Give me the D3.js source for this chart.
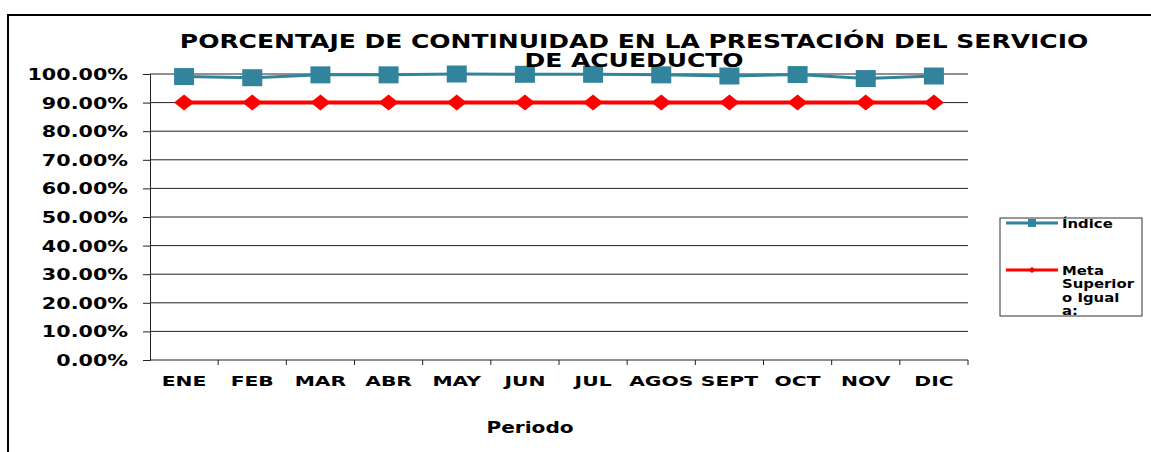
<!DOCTYPE html>
<html>
<head>
<meta charset="utf-8">
<script src="https://cdn.jsdelivr.net/npm/d3@7"></script>
<style>
  body { margin: 0; background: #fff; }
  text { font-family: "DejaVu Sans", Verdana, sans-serif; font-weight: bold; fill: #000; }
</style>
</head>
<body>
<svg width="1151" height="452"></svg>
<script>
const months = ["ENE", "FEB", "MAR", "ABR", "MAY", "JUN", "JUL", "AGOS", "SEPT", "OCT", "NOV", "DIC"]
const indice = [0.991, 0.987, 0.997, 0.997, 1.0, 0.999, 0.999, 0.997, 0.993, 0.998, 0.984, 0.993]
const meta = [0.9, 0.9, 0.9, 0.9, 0.9, 0.9, 0.9, 0.9, 0.9, 0.9, 0.9, 0.9]
const yTicks = [0, 0.1, 0.2, 0.3, 0.4, 0.5, 0.6, 0.7, 0.8, 0.9, 1.0]

const svg = d3.select("svg")

// the original chart is stretched sideways, so text gets a horizontal scale
const wideText = (g, x, y, sx) => g.append("g")
  .attr("transform", `translate(${x},${y}) scale(${sx},1)`)
  .append("text")

// outer frame (open on right and bottom)
svg.append("path")
  .attr("d", "M8,460 L8,15 L1160,15")
  .attr("fill", "none")
  .attr("stroke", "#000")
  .attr("stroke-width", 2)

const plotLeft = 150, plotRight = 968, plotTop = 74, plotBottom = 360

const x = d3.scaleBand().domain(months).range([plotLeft, plotRight])
const y = d3.scaleLinear().domain([0, 1]).range([plotBottom, plotTop])

// grid
svg.append("g")
  .selectAll("line")
  .data(yTicks.slice(1))
  .enter()
  .append("line")
  .attr("x1", plotLeft)
  .attr("x2", plotRight)
  .attr("y1", d => y(d))
  .attr("y2", d => y(d))
  .attr("stroke", "#222")
  .attr("stroke-width", 1)

const ySx = 1.38
const yAxis = svg.append("g")
  .attr("transform", `translate(${plotLeft},0)`)
  .call(d3.axisLeft(y).tickValues(yTicks).tickFormat(d3.format(".2%")).tickSize(7).tickPadding(14))
yAxis.select(".domain").attr("stroke", "#222")
yAxis.selectAll(".tick line").attr("stroke", "#222")
yAxis.selectAll("text")
  .style("font-size", "15px")
  .attr("dy", "0.36em")
  .attr("x", -22 / ySx)
  .attr("transform", `scale(${ySx},1)`)

const xAxis = svg.append("g")
  .attr("transform", `translate(0,${plotBottom})`)
  .call(d3.axisBottom(x).tickSize(0).tickPadding(16))
xAxis.select(".domain").attr("stroke", "#222").attr("d", `M${plotLeft},0H${plotRight}`)
xAxis.selectAll("text")
  .style("font-size", "14px")
  .attr("transform", "scale(1.45,1)")

// category boundary ticks
svg.append("g")
  .selectAll("line")
  .data(months)
  .enter()
  .append("line")
  .attr("x1", d => x(d) + x.bandwidth())
  .attr("x2", d => x(d) + x.bandwidth())
  .attr("y1", plotBottom)
  .attr("y2", plotBottom + 5)
  .attr("stroke", "#222")

const cx = d => x(d) + x.bandwidth() / 2
const line = d3.line().x((d, i) => cx(months[i])).y(d => y(d))

// meta line
svg.append("path")
  .datum(meta)
  .attr("d", line)
  .attr("fill", "none")
  .attr("stroke", "#ff0000")
  .attr("stroke-width", 4)

svg.append("g")
  .selectAll("path")
  .data(meta)
  .enter()
  .append("path")
  .attr("transform", (d, i) => `translate(${cx(months[i])},${y(d)})`)
  .attr("d", "M-10,0 L0,-8 L10,0 L0,8 Z")
  .attr("fill", "#ff0000")

// indice line
svg.append("path")
  .datum(indice)
  .attr("d", line)
  .attr("fill", "none")
  .attr("stroke", "#31849b")
  .attr("stroke-width", 3)

svg.append("g")
  .selectAll("rect")
  .data(indice)
  .enter()
  .append("rect")
  .attr("x", (d, i) => cx(months[i]) - 10)
  .attr("y", d => y(d) - 8.5)
  .attr("width", 20)
  .attr("height", 17)
  .attr("fill", "#31849b")

// title
wideText(svg, 634, 48, 1.25)
  .attr("text-anchor", "middle")
  .style("font-size", "20px")
  .text("PORCENTAJE DE CONTINUIDAD EN LA PRESTACIÓN DEL SERVICIO")
wideText(svg, 634, 67, 1.25)
  .attr("text-anchor", "middle")
  .style("font-size", "20px")
  .text("DE ACUEDUCTO")

// x axis title
wideText(svg, 530, 433, 1.34)
  .attr("text-anchor", "middle")
  .style("font-size", "15px")
  .text("Periodo")

// legend
const legend = svg.append("g")
legend.append("rect")
  .attr("x", 1000).attr("y", 218)
  .attr("width", 142).attr("height", 98)
  .attr("fill", "#fff")
  .attr("stroke", "#333")

legend.append("line")
  .attr("x1", 1006).attr("x2", 1058).attr("y1", 223).attr("y2", 223)
  .attr("stroke", "#31849b").attr("stroke-width", 3)
legend.append("rect")
  .attr("x", 1028).attr("y", 219).attr("width", 8).attr("height", 8)
  .attr("fill", "#31849b")
wideText(legend, 1062, 228, 1.24)
  .style("font-size", "12px")
  .text("Índice")

legend.append("line")
  .attr("x1", 1006).attr("x2", 1058).attr("y1", 270).attr("y2", 270)
  .attr("stroke", "#ff0000").attr("stroke-width", 3)
legend.append("path")
  .attr("transform", "translate(1032,270)")
  .attr("d", "M-4,0 L0,-3 L4,0 L0,3 Z")
  .attr("fill", "#ff0000")

const metaLabel = ["Meta", "Superior", "o Igual", "a:"]
wideText(legend, 1062, 0, 1.24)
  .style("font-size", "12px")
  .selectAll("tspan")
  .data(metaLabel)
  .enter()
  .append("tspan")
  .attr("x", 0)
  .attr("y", (d, i) => 275 + i * 13.5)
  .text(d => d)
</script>
</body>
</html>
